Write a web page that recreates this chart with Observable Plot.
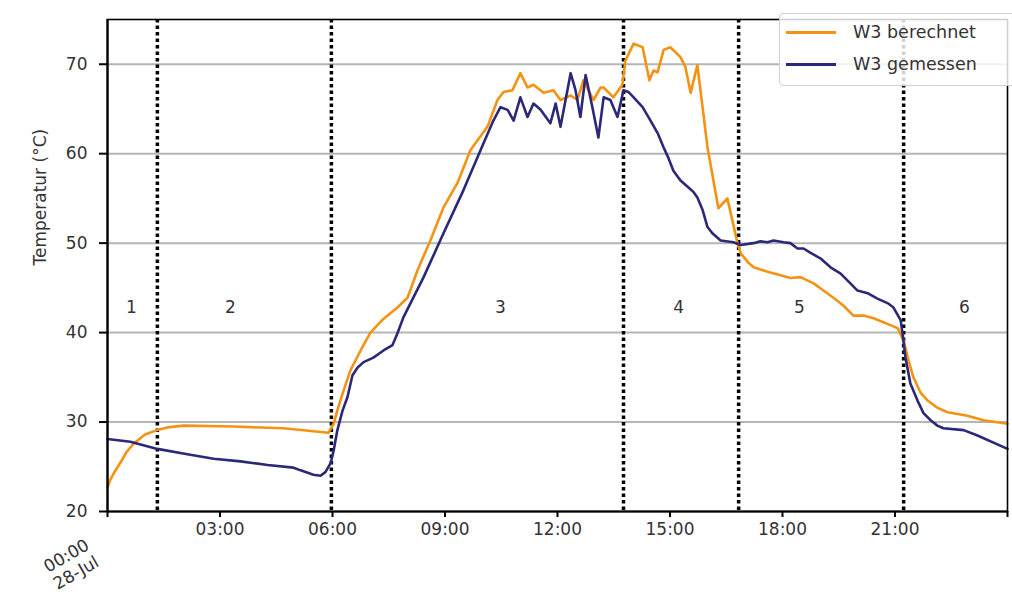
<!DOCTYPE html>
<html>
<head>
<meta charset="utf-8">
<script src="https://cdn.jsdelivr.net/npm/d3@7"></script>
<script src="https://cdn.jsdelivr.net/npm/@observablehq/plot@0.6"></script>
<style>
  html, body { margin: 0; padding: 0; background: #fff; }
  #wrap { position: relative; width: 1012px; height: 594px; overflow: hidden; font-family: "DejaVu Sans", sans-serif; }
  #legend { position: absolute; left: 779px; top: 13px; width: 240px; height: 73px; box-sizing: border-box;
            border: 1.5px solid #d0d0d0; border-radius: 4px; background: rgba(255,255,255,0.82); }
  .lg-row { position: absolute; left: 0; height: 20px; display: flex; align-items: center; }
  .lg-swatch { width: 50px; height: 3px; margin-left: 6px; }
  .lg-text { margin-left: 17px; font-size: 17.5px; color: #333; white-space: nowrap; }
</style>
</head>
<body>
<div id="wrap"><div id="chart"></div><div id="legend"></div></div>
<script>
// ---- data ----
const seriesNames = ["W3 berechnet", "W3 gemessen"];
const seriesColors = ["#f39213", "#2c2878"];

const hoursBerechnet = [0, 0.08, 0.17, 0.35, 0.5, 0.7, 1.0, 1.32, 1.6, 2.03, 3.36, 4.69, 5.89, 6.03, 6.13, 6.27, 6.48, 6.75, 7.01, 7.35, 7.73, 8.0, 8.27, 8.61, 8.96, 9.33, 9.68, 10.13, 10.4, 10.56, 10.8, 11.01, 11.2, 11.36, 11.63, 11.89, 12.08, 12.35, 12.53, 12.69, 12.96, 13.15, 13.23, 13.49, 13.73, 13.81, 14.03, 14.27, 14.45, 14.56, 14.67, 14.83, 15.01, 15.28, 15.41, 15.55, 15.73, 16.0, 16.29, 16.53, 16.8, 16.88, 17.07, 17.23, 17.6, 17.95, 18.21, 18.48, 18.83, 19.09, 19.36, 19.63, 19.89, 20.16, 20.43, 21.07, 21.23, 21.36, 21.49, 21.68, 21.87, 22.13, 22.4, 22.93, 23.36, 24.0];
const berechnet = [22.7, 23.6, 24.3, 25.5, 26.6, 27.6, 28.6, 29.1, 29.4, 29.6, 29.5, 29.3, 28.8, 29.8, 31.3, 33.2, 35.8, 38.0, 40.0, 41.5, 42.8, 43.9, 47.0, 50.3, 54.0, 56.7, 60.4, 63.0, 66.0, 66.9, 67.1, 69.0, 67.4, 67.7, 66.8, 67.1, 66.0, 66.5, 66.0, 68.2, 66.0, 67.4, 67.4, 66.3, 67.7, 70.4, 72.3, 71.9, 68.2, 69.3, 69.1, 71.6, 71.9, 70.8, 69.7, 66.8, 69.9, 60.7, 53.9, 55.0, 50.0, 48.9, 47.9, 47.3, 46.8, 46.4, 46.1, 46.2, 45.5, 44.7, 43.9, 43.0, 41.9, 41.9, 41.6, 40.5, 39.1, 36.9, 35.0, 33.3, 32.4, 31.6, 31.1, 30.7, 30.2, 29.8];

const hoursGemessen = [0, 0.61, 1.33, 2.13, 2.83, 3.55, 4.27, 4.96, 5.15, 5.49, 5.68, 5.81, 5.95, 6.03, 6.13, 6.27, 6.4, 6.53, 6.67, 6.83, 7.09, 7.36, 7.6, 7.73, 7.89, 8.43, 8.96, 9.49, 9.95, 10.29, 10.48, 10.67, 10.83, 11.01, 11.2, 11.36, 11.55, 11.81, 11.95, 12.08, 12.35, 12.48, 12.61, 12.75, 12.93, 13.09, 13.23, 13.41, 13.6, 13.76, 13.89, 14.03, 14.27, 14.48, 14.67, 14.83, 14.96, 15.09, 15.28, 15.47, 15.63, 15.73, 15.87, 16.0, 16.13, 16.35, 16.69, 16.88, 17.23, 17.41, 17.6, 17.76, 18.03, 18.21, 18.4, 18.56, 18.75, 19.01, 19.28, 19.55, 19.81, 20.0, 20.27, 20.53, 20.8, 20.96, 21.15, 21.2, 21.28, 21.41, 21.6, 21.76, 21.95, 22.13, 22.29, 22.83, 23.2, 24.0];
const gemessen = [28.1, 27.8, 27.0, 26.4, 25.9, 25.6, 25.2, 24.9, 24.6, 24.1, 24.0, 24.4, 25.4, 26.8, 29.1, 31.3, 32.8, 35.2, 36.1, 36.7, 37.2, 38.0, 38.6, 39.9, 41.7, 46.2, 51.1, 55.9, 60.4, 63.7, 65.2, 64.9, 63.7, 66.3, 64.1, 65.6, 64.9, 63.4, 65.6, 63.0, 69.0, 67.1, 64.1, 68.8, 65.2, 61.8, 66.3, 66.0, 64.1, 67.1, 66.9, 66.3, 65.2, 63.7, 62.3, 60.7, 59.5, 58.1, 57.0, 56.3, 55.7, 55.1, 53.7, 51.8, 51.1, 50.3, 50.1, 49.8, 50.0, 50.2, 50.1, 50.3, 50.1, 50.0, 49.4, 49.4, 48.9, 48.3, 47.3, 46.6, 45.5, 44.7, 44.4, 43.8, 43.3, 42.8, 41.4, 39.9, 37.2, 34.3, 32.4, 31.0, 30.2, 29.6, 29.3, 29.1, 28.5, 27.0];

const phaseBoundaries = [1.33, 5.97, 13.76, 16.83, 21.23];
const phaseLabels = ["1", "2", "3", "4", "5", "6"];
const phaseLabelHours = [0.64, 3.28, 10.48, 15.23, 18.45, 22.85];
const phaseLabelTemp = 42.8;

const yTicks = [20, 30, 40, 50, 60, 70];
const xTicks = [0, 3, 6, 9, 12, 15, 18, 21, 24];
const xTickLabels = ["", "03:00", "06:00", "09:00", "12:00", "15:00", "18:00", "21:00", ""];
const firstTickLabel = "00:00\n28-Jul";
const yLabel = "Temperatur (°C)";

// ---- build tables ----
const rowsB = hoursBerechnet.map((h, i) => ({h, v: berechnet[i]}));
const rowsG = hoursGemessen.map((h, i) => ({h, v: gemessen[i]}));
const phases = phaseLabels.map((t, i) => ({t, h: phaseLabelHours[i], v: phaseLabelTemp}));

const textColor = "#333";
const chart = Plot.plot({
  width: 1012,
  height: 594,
  marginLeft: 107,
  marginRight: 5,
  marginTop: 19,
  marginBottom: 83,
  style: {fontFamily: "DejaVu Sans, sans-serif", fontSize: "17px", color: textColor, background: "white", overflow: "visible"},
  x: {domain: [0, 24]},
  y: {domain: [20, 75]},
  marks: [
    Plot.ruleY(yTicks.slice(1), {stroke: "#b5b5b5", strokeWidth: 2}),
    Plot.ruleX(phaseBoundaries, {stroke: "black", strokeWidth: 3.5, strokeDasharray: "3.5,3"}),
    Plot.text(phases, {x: "h", y: "v", text: "t", fontSize: 17, fill: textColor}),
    Plot.line(rowsB, {x: "h", y: "v", stroke: seriesColors[0], strokeWidth: 2.6, strokeLinejoin: "round"}),
    Plot.line(rowsG, {x: "h", y: "v", stroke: seriesColors[1], strokeWidth: 2.6, strokeLinejoin: "round"}),
    Plot.frame({stroke: "black", strokeWidth: 1.6}),
    Plot.ruleX([0], {stroke: "black", strokeWidth: 2.2}),
    Plot.ruleY([20], {stroke: "black", strokeWidth: 2.2}),
    Plot.axisY({ticks: yTicks, tickSize: 8, tickPadding: 12, tickFormat: d => String(d), fontSize: 17, stroke: "black", strokeWidth: 2, label: null, fill: textColor}),
    Plot.axisX({ticks: xTicks, tickSize: 6, tickPadding: 5, tickFormat: d => xTickLabels[xTicks.indexOf(d)], fontSize: 17, stroke: "black", strokeWidth: 2, label: null, fill: textColor}),
    Plot.text([{h: 0, v: 20}], {x: "h", y: "v", text: () => firstTickLabel, rotate: -30, textAnchor: "end", lineAnchor: "top", dx: -24, dy: 25, fontSize: 17, fill: textColor, lineHeight: 1.15}),
    Plot.text([yLabel], {frameAnchor: "left", text: d => d, rotate: -90, dx: -67, fontSize: 17, fill: textColor})
  ]
});
document.getElementById("chart").appendChild(chart);

// ---- legend ----
const legend = document.getElementById("legend");
seriesNames.forEach((name, i) => {
  const row = document.createElement("div");
  row.className = "lg-row";
  row.style.top = (i === 0 ? 8 : 40) + "px";
  const sw = document.createElement("div");
  sw.className = "lg-swatch";
  sw.style.background = seriesColors[i];
  const tx = document.createElement("div");
  tx.className = "lg-text";
  tx.textContent = name;
  row.appendChild(sw); row.appendChild(tx);
  legend.appendChild(row);
});
</script>
</body>
</html>
